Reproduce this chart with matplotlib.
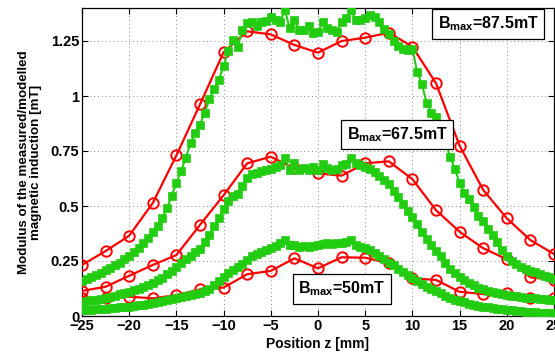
import numpy as np
import matplotlib
matplotlib.use("Agg")
import matplotlib.pyplot as plt

plt.rcParams['font.family'] = ['Liberation Sans', 'DejaVu Sans']
plt.rcParams['mathtext.fontset'] = 'custom'
plt.rcParams['mathtext.rm'] = 'Liberation Sans:bold'
plt.rcParams['mathtext.bf'] = 'Liberation Sans:bold'
plt.rcParams['mathtext.it'] = 'Liberation Sans:bold'

# measured positions (red circles)
z_meas = [-25, -22.5, -20, -17.5, -15, -12.5, -10, -7.5, -5, -2.5, 0,
          2.5, 5, 7.5, 10, 12.5, 15, 17.5, 20, 22.5, 25]
meas_875 = [0.232, 0.295, 0.365, 0.514, 0.730, 0.962, 1.199, 1.294, 1.280, 1.232, 1.197,
            1.250, 1.265, 1.288, 1.224, 1.058, 0.774, 0.573, 0.444, 0.345, 0.282]
meas_675 = [0.114, 0.133, 0.183, 0.232, 0.277, 0.414, 0.549, 0.694, 0.724, 0.671, 0.648,
            0.638, 0.694, 0.703, 0.622, 0.481, 0.383, 0.308, 0.258, 0.176, 0.164]
meas_50 = [0.080, 0.083, 0.088, 0.080, 0.095, 0.121, 0.129, 0.190, 0.205, 0.262, 0.217,
           0.267, 0.265, 0.240, 0.171, 0.164, 0.110, 0.100, 0.105, 0.082, 0.082]

# modelled positions (green squares)
z_model = [-25.0, -24.5, -24.0, -23.5, -23.0, -22.5, -22.0, -21.5, -21.0, -20.5,
           -20.0, -19.5, -19.0, -18.5, -18.0, -17.5, -17.0, -16.5, -16.0, -15.5,
           -15.0, -14.5, -14.0, -13.5, -13.0, -12.5, -12.0, -11.5, -11.0, -10.5,
           -10.0, -9.5, -9.0, -8.5, -8.0, -7.5, -7.0, -6.5, -6.0, -5.5,
           -5.0, -4.5, -4.0, -3.5, -3.0, -2.5, -2.0, -1.5, -1.0, -0.5,
           0.0, 0.5, 1.0, 1.5, 2.0, 2.5, 3.0, 3.5, 4.0, 4.5,
           5.0, 5.5, 6.0, 6.5, 7.0, 7.5, 8.0, 8.5, 9.0, 9.5,
           10.0, 10.5, 11.0, 11.5, 12.0, 12.5, 13.0, 13.5, 14.0, 14.5,
           15.0, 15.5, 16.0, 16.5, 17.0, 17.5, 18.0, 18.5, 19.0, 19.5,
           20.0, 20.5, 21.0, 21.5, 22.0, 22.5, 23.0, 23.5, 24.0, 24.5, 25.0]

model_875 = [0.160, 0.168, 0.176, 0.186, 0.196, 0.207, 0.218, 0.230, 0.243, 0.257,
             0.272, 0.290, 0.310, 0.331, 0.355, 0.381, 0.410, 0.445, 0.490, 0.545,
             0.605, 0.660, 0.720, 0.785, 0.830, 0.870, 0.925, 0.985, 1.030, 1.075,
             1.135, 1.205, 1.255, 1.225, 1.300, 1.330, 1.338, 1.318, 1.338, 1.340,
             1.360, 1.345, 1.338, 1.390, 1.307, 1.345, 1.300, 1.298, 1.318, 1.285,
             1.290, 1.335, 1.307, 1.300, 1.292, 1.338, 1.353, 1.390, 1.345, 1.345,
             1.353, 1.368, 1.360, 1.335, 1.305, 1.280, 1.250, 1.228, 1.215, 1.209,
             1.215, 1.110, 1.055, 0.970, 0.925, 0.906, 0.850, 0.790, 0.724, 0.670,
             0.603, 0.560, 0.530, 0.497, 0.455, 0.430, 0.395, 0.370, 0.335, 0.300,
             0.275, 0.252, 0.238, 0.222, 0.213, 0.205, 0.198, 0.191, 0.184, 0.176, 0.170]

model_675 = [0.065, 0.068, 0.071, 0.074, 0.078, 0.082, 0.087, 0.092, 0.098, 0.104,
             0.110, 0.117, 0.124, 0.132, 0.141, 0.151, 0.162, 0.175, 0.190, 0.206,
             0.224, 0.240, 0.257, 0.274, 0.290, 0.305, 0.338, 0.370, 0.408, 0.445,
             0.485, 0.525, 0.545, 0.555, 0.590, 0.628, 0.645, 0.652, 0.658, 0.663,
             0.670, 0.679, 0.686, 0.717, 0.663, 0.694, 0.665, 0.672, 0.665, 0.676,
             0.663, 0.690, 0.675, 0.663, 0.670, 0.688, 0.690, 0.717, 0.694, 0.686,
             0.679, 0.670, 0.656, 0.636, 0.620, 0.600, 0.568, 0.542, 0.508, 0.478,
             0.448, 0.418, 0.383, 0.348, 0.322, 0.295, 0.272, 0.242, 0.215, 0.195,
             0.178, 0.163, 0.150, 0.139, 0.129, 0.121, 0.115, 0.109, 0.103, 0.099,
             0.095, 0.092, 0.089, 0.087, 0.084, 0.082, 0.080, 0.078, 0.076, 0.074, 0.072]

model_50 = [0.027, 0.028, 0.029, 0.030, 0.032, 0.033, 0.035, 0.037, 0.039, 0.041,
            0.043, 0.046, 0.049, 0.052, 0.055, 0.059, 0.063, 0.067, 0.072, 0.077,
            0.082, 0.087, 0.092, 0.097, 0.100, 0.105, 0.115, 0.125, 0.140, 0.160,
            0.178, 0.195, 0.210, 0.225, 0.238, 0.255, 0.272, 0.282, 0.292, 0.300,
            0.308, 0.318, 0.330, 0.345, 0.323, 0.322, 0.315, 0.318, 0.315, 0.320,
            0.323, 0.326, 0.330, 0.328, 0.330, 0.333, 0.338, 0.345, 0.325, 0.315,
            0.308, 0.300, 0.286, 0.272, 0.258, 0.243, 0.230, 0.215, 0.200, 0.186,
            0.172, 0.160, 0.145, 0.134, 0.124, 0.114, 0.103, 0.090, 0.080, 0.074,
            0.068, 0.062, 0.055, 0.050, 0.046, 0.042, 0.039, 0.036, 0.033, 0.030,
            0.028, 0.026, 0.024, 0.022, 0.020, 0.018, 0.016, 0.015, 0.014, 0.013, 0.012]

x_ticks = [-25, -20, -15, -10, -5, 0, 5, 10, 15, 20, 25]
y_ticks = [0, 0.25, 0.5, 0.75, 1, 1.25]
y_tick_labels = ['0', '0.25', '0.5', '0.75', '1', '1.25']

annotations = [(18.0, 1.327, '87.5'), (8.4, 0.825, '67.5'), (2.55, 0.124, '50')]

RED = '#ff0000'
GREEN = '#22cc11'

fig = plt.figure(figsize=(5.55, 3.56), dpi=100)
ax = fig.add_axes([82/555, 40/356, 472/555, 308/356])

for meas, model in [(meas_875, model_875), (meas_675, model_675), (meas_50, model_50)]:
    ax.plot(z_meas, meas, color=RED, lw=1.6, marker='o', ms=7.5, mfc='none',
            mec=RED, mew=1.4, zorder=3)
    ax.plot(z_model, model, color=GREEN, lw=1.5, marker='s', ms=6.0, mfc=GREEN,
            mec=GREEN, mew=0.5, zorder=4)

ax.set_xlim(-25, 25)
ax.set_ylim(0, 1.4)
ax.set_xticks(x_ticks)
ax.set_yticks(y_ticks)
ax.set_yticklabels(y_tick_labels)
ax.grid(True, color='#888888', linestyle=(0, (1, 3)), linewidth=0.7)
ax.set_axisbelow(True)
ax.tick_params(direction='in', length=4, width=0.8, top=True, right=True,
               labelsize=10.5, pad=2)
for lab in ax.get_xticklabels() + ax.get_yticklabels():
    lab.set_fontweight('bold')
for sp in ax.spines.values():
    sp.set_linewidth(0.9)

ax.set_xlabel('Position z [mm]', fontsize=10, fontweight='bold', labelpad=3)
ax.set_ylabel('Modulus of the measured/modelled\nmagnetic induction [mT]',
              fontsize=9.6, fontweight='bold', labelpad=6, linespacing=1.0)

for zx, yv, val in annotations:
    ax.text(zx, yv, r'B$_{\mathrm{max}}$=' + val + 'mT', fontsize=11.5, fontweight='bold',
            ha='center', va='center', zorder=6,
            bbox=dict(boxstyle='square,pad=0.35', fc='white', ec='black', lw=0.9))

fig.savefig('out.png', dpi=100)
